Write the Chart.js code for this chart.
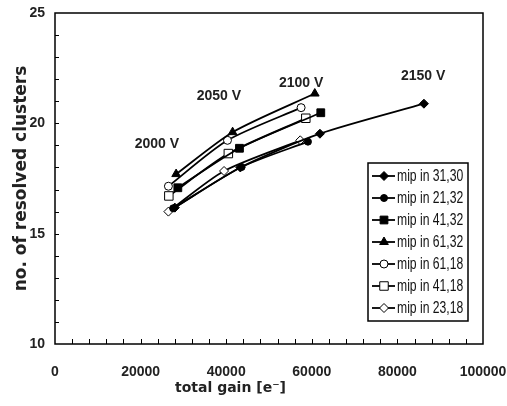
<!DOCTYPE html>
<html>
<head>
<meta charset="utf-8">
<script src="https://cdn.jsdelivr.net/npm/chart.js@4/dist/chart.umd.min.js"></script>
<style>
  html, body { margin: 0; padding: 0; background: #fff; }
  #wrap { width: 507px; height: 406px; }
</style>
</head>
<body>
<div id="wrap"><canvas id="gainChart"></canvas></div>
<script>
// series: total gain [e-] vs. no. of resolved clusters
const seriesNames = ['mip in 31,30', 'mip in 21,32', 'mip in 41,32', 'mip in 61,32', 'mip in 61,18', 'mip in 41,18', 'mip in 23,18'];

const gain3130 = [28000, 43300, 61900, 86200];
const clusters3130 = [16.18, 18.0, 19.53, 20.89];
const gain2132 = [27600, 43600, 59100];
const clusters2132 = [16.15, 18.02, 19.17];
const gain4132 = [28700, 43100, 62100];
const clusters4132 = [17.08, 18.87, 20.48];
const gain6132 = [28300, 41500, 60700];
const clusters6132 = [17.7, 19.6, 21.35];
const gain6118 = [26500, 40300, 57500];
const clusters6118 = [17.15, 19.23, 20.71];
const gain4118 = [26600, 40500, 58600];
const clusters4118 = [16.71, 18.63, 20.23];
const gain2318 = [26500, 39500, 57300];
const clusters2318 = [16.0, 17.84, 19.23];

const voltageLabels = ['2000 V', '2050 V', '2100 V', '2150 V'];
const voltageGain = [23800, 38300, 57500, 86000];
const voltageClusters = [19.06, 21.24, 21.83, 22.15];

const xTickValues = [0, 20000, 40000, 60000, 80000, 100000];
const yTickValues = [10, 15, 20, 25];

const xTitle = 'total gain [e\u207B]';
const yTitle = 'no. of resolved clusters';

const ctx = document.getElementById('gainChart').getContext('2d');

function toPoints(xs, ys) {
    return xs.map((x, i) => ({ x: x, y: ys[i] }));
}

const markerStyles = [
    { style: 'rectRot', radius: 4.5, fill: '#000' },
    { style: 'circle', radius: 3.5, fill: '#000' },
    { style: 'rect', radius: 5.5, fill: '#000' },
    { style: 'triangle', radius: 5, fill: '#000' },
    { style: 'circle', radius: 4, fill: '#fff' },
    { style: 'rect', radius: 6, fill: '#fff' },
    { style: 'rectRot', radius: 4.5, fill: '#fff' }
];

const seriesData = [
    toPoints(gain3130, clusters3130),
    toPoints(gain2132, clusters2132),
    toPoints(gain4132, clusters4132),
    toPoints(gain6132, clusters6132),
    toPoints(gain6118, clusters6118),
    toPoints(gain4118, clusters4118),
    toPoints(gain2318, clusters2318)
];

const datasets = seriesNames.map((name, i) => ({
    label: name,
    data: seriesData[i],
    borderColor: '#000',
    borderWidth: 1.8,
    tension: 0.25,
    pointStyle: markerStyles[i].style,
    pointRadius: markerStyles[i].radius,
    pointBackgroundColor: markerStyles[i].fill,
    pointBorderColor: '#000',
    pointBorderWidth: 1
}));

function drawMarker(c, m, x, y) {
    c.save();
    c.fillStyle = m.fill;
    c.strokeStyle = '#000';
    c.lineWidth = 1;
    if (Chart.helpers && Chart.helpers.drawPoint) {
        Chart.helpers.drawPoint(c, { pointStyle: m.style, radius: m.radius, borderWidth: 1, rotation: 0 }, x, y);
    } else {
        c.beginPath();
        c.arc(x, y, m.radius, 0, Math.PI * 2);
        c.fill();
        c.stroke();
    }
    c.restore();
}

// frame, inward ticks, voltage labels, x title and the boxed legend
const decorations = {
    id: 'decorations',
    afterDatasetsDraw(chart) {
        const c = chart.ctx;
        const area = chart.chartArea;
        const xs = chart.scales.x;
        const ys = chart.scales.y;

        c.save();
        c.strokeStyle = '#000';
        c.lineWidth = 1.5;
        c.strokeRect(area.left, area.top, area.right - area.left, area.bottom - area.top);

        c.lineWidth = 1;
        c.beginPath();
        for (let v = 4000; v < 100000; v += 4000) {
            const px = Math.round(xs.getPixelForValue(v)) + 0.5;
            c.moveTo(px, area.bottom);
            c.lineTo(px, area.bottom - 5);
        }
        for (let v = 11; v < 25; v++) {
            const py = Math.round(ys.getPixelForValue(v)) + 0.5;
            c.moveTo(area.left, py);
            c.lineTo(area.left + 4, py);
        }
        c.stroke();

        c.fillStyle = '#222';
        c.font = 'bold 14px "Liberation Sans", Arial, sans-serif';
        c.textAlign = 'center';
        c.textBaseline = 'middle';
        voltageLabels.forEach((t, i) => {
            c.fillText(t, xs.getPixelForValue(voltageGain[i]), ys.getPixelForValue(voltageClusters[i]));
        });

        // x axis title, set a little left of the plot centre as in the original
        c.font = 'bold 14px "DejaVu Sans", sans-serif';
        c.fillText(xTitle, area.left + (area.right - area.left) * 0.41, 388);

        // legend box
        const boxLeft = area.right - 115;
        const boxTop = area.top + 150;
        const boxW = 100;
        const boxH = 158;
        c.fillStyle = '#fff';
        c.fillRect(boxLeft, boxTop, boxW, boxH);
        c.strokeStyle = '#000';
        c.lineWidth = 1.5;
        c.strokeRect(boxLeft, boxTop, boxW, boxH);

        c.font = '16px "Liberation Sans", Arial, sans-serif';
        c.textAlign = 'left';
        seriesNames.forEach((name, i) => {
            const y = boxTop + 13 + i * 22;
            c.strokeStyle = '#000';
            c.lineWidth = 1.8;
            c.beginPath();
            c.moveTo(boxLeft + 4, y);
            c.lineTo(boxLeft + 27, y);
            c.stroke();
            drawMarker(c, markerStyles[i], boxLeft + 16, y);
            // narrow face: squeeze the text horizontally
            c.save();
            c.translate(boxLeft + 29, y + 1);
            c.scale(0.76, 1);
            c.fillStyle = '#111';
            c.fillText(name, 0, 0);
            c.restore();
        });
        c.restore();
    }
};

new Chart(ctx, {
    type: 'line',
    data: { datasets: datasets },
    plugins: [decorations],
    options: {
        responsive: true,
        maintainAspectRatio: false,
        animation: false,
        layout: { padding: { left: 0, right: 24, top: 13, bottom: 0 } },
        plugins: {
            legend: { display: false },
            tooltip: { enabled: false }
        },
        scales: {
            x: {
                type: 'linear',
                min: 0,
                max: 100000,
                afterBuildTicks: (scale) => { scale.ticks = xTickValues.map(v => ({ value: v })); },
                afterFit: (scale) => {
                    scale.height = 62;
                    scale.paddingLeft = 0;
                    scale.paddingRight = 0;
                },
                grid: { display: false, drawTicks: false },
                border: { display: false },
                ticks: {
                    padding: 20,
                    color: '#222',
                    maxRotation: 0,
                    font: { family: '"Liberation Sans", Arial, sans-serif', size: 14, weight: 'bold' },
                    callback: (v) => String(v)
                },
                title: { display: false }
            },
            y: {
                type: 'linear',
                min: 10,
                max: 25,
                afterBuildTicks: (scale) => { scale.ticks = yTickValues.map(v => ({ value: v })); },
                afterFit: (scale) => {
                    scale.width = 55;
                    scale.paddingTop = 0;
                    scale.paddingBottom = 0;
                },
                grid: { display: false, drawTicks: false },
                border: { display: false },
                ticks: {
                    padding: 10,
                    color: '#222',
                    font: { family: '"Liberation Sans", Arial, sans-serif', size: 14, weight: 'bold' },
                    callback: (v) => String(v)
                },
                title: {
                    display: true,
                    text: yTitle,
                    color: '#222',
                    padding: { top: 11, bottom: 0 },
                    font: { family: '"DejaVu Sans", sans-serif', size: 17, weight: 'bold' }
                }
            }
        }
    }
});
</script>
</body>
</html>
